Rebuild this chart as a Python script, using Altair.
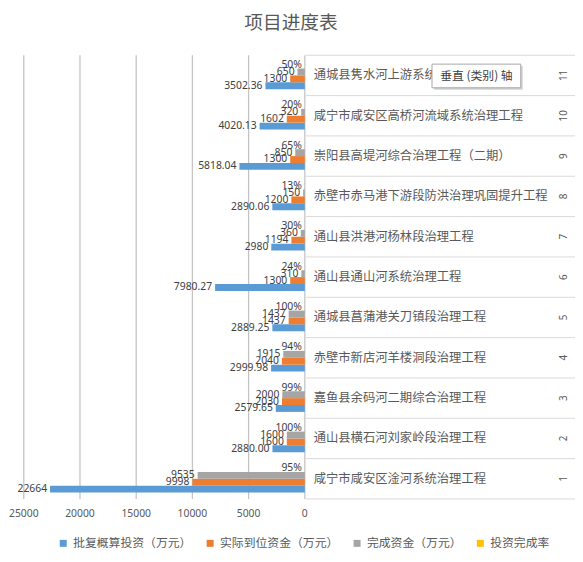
import altair as alt
import pandas as pd

# ---------------- data ----------------
idx = ["1", "2", "3", "4", "5", "6", "7", "8", "9", "10", "11"]
names = [
    "咸宁市咸安区淦河系统治理工程",
    "通山县横石河刘家岭段治理工程",
    "嘉鱼县余码河二期综合治理工程",
    "赤壁市新店河羊楼洞段治理工程",
    "通城县菖蒲港关刀镇段治理工程",
    "通山县通山河系统治理工程",
    "通山县洪港河杨林段治理工程",
    "赤壁市赤马港下游段防洪治理巩固提升工程",
    "崇阳县高堤河综合治理工程（二期）",
    "咸宁市咸安区高桥河流域系统治理工程",
    "通城县隽水河上游系统治理工程",
]
budget = [22664, 2880.00, 2579.65, 2999.98, 2889.25, 7980.27, 2980, 2890.06, 5818.04, 4020.13, 3502.36]
budget_lbl = ["22664", "2880.00", "2579.65", "2999.98", "2889.25", "7980.27", "2980", "2890.06",
              "5818.04", "4020.13", "3502.36"]
funded = [9998, 1600, 2030, 2040, 1437, 1300, 1194, 1200, 1300, 1602, 1300]
completed = [9535, 1600, 2000, 1915, 1437, 310, 360, 150, 850, 320, 650]
rate_pct = [95, 100, 99, 94, 100, 24, 30, 13, 65, 20, 50]

series = ["批复概算投资（万元）", "实际到位资金（万元）", "完成资金（万元）", "投资完成率"]
colors = ["#5B9BD5", "#ED7D31", "#A5A5A5", "#FFC000"]
x_ticks = [0, 5000, 10000, 15000, 20000, 25000]
title_text = "项目进度表"
tooltip_text = "垂直 (类别) 轴"

# ---------------- tables ----------------
rows = []
for i, n in enumerate(names):
    rows.append({"name": n, "series": series[0], "value": budget[i], "label": budget_lbl[i]})
    rows.append({"name": n, "series": series[1], "value": funded[i], "label": str(funded[i])})
    rows.append({"name": n, "series": series[2], "value": completed[i], "label": str(completed[i])})
    rows.append({"name": n, "series": series[3], "value": rate_pct[i] / 100, "label": f"{rate_pct[i]}%"})
df = pd.DataFrame(rows)
cats = pd.DataFrame({"name": names, "idx": idx})
ticks = pd.DataFrame({"t": x_ticks, "tl": [str(v) for v in x_ticks]})

CJK = "Noto Sans CJK SC"
GRID = "#D9D9D9"
VGRID = "#C4C4C4"
TXT = "#595959"

xscale = alt.Scale(domain=[0, 25000], range=[301, 16], nice=False)
yscale = alt.Scale(domain=names[::-1], range=[44, 494], paddingInner=0, paddingOuter=0)
yoff_scale = alt.Scale(domain=series[::-1], paddingInner=0, paddingOuter=0.93)

grid = alt.Chart(ticks).mark_rule(color=VGRID, strokeWidth=1.3).encode(
    x=alt.X("t:Q", scale=xscale, axis=None),
    y=alt.value(44), y2=alt.value(494),
)

tick_text = alt.Chart(ticks).mark_text(align="center", baseline="middle", font="Noto Sans",
                                       fontSize=10.5, color=TXT).encode(
    x=alt.X("t:Q", scale=xscale, axis=None),
    y=alt.value(509),
    text="tl:N",
)

seps = alt.Chart(cats).mark_rule(color=GRID, strokeWidth=1).encode(
    y=alt.Y("name:N", scale=yscale, bandPosition=0, axis=None),
    x=alt.value(302), x2=alt.value(575),
)
bottom_sep = alt.Chart(cats.head(1)).mark_rule(color=GRID, strokeWidth=1).encode(
    y=alt.value(494), x=alt.value(302), x2=alt.value(575),
)

bars = alt.Chart(df).mark_bar(size=7).encode(
    x=alt.X("value:Q", scale=xscale, axis=None),
    y=alt.Y("name:N", scale=yscale, axis=None),
    yOffset=alt.YOffset("series:N", scale=yoff_scale),
    color=alt.Color("series:N", scale=alt.Scale(domain=series, range=colors),
                    legend=alt.Legend(orient="none", legendX=50, legendY=533, direction="horizontal",
                                      title=None, symbolType="square", symbolSize=50,
                                      symbolStrokeWidth=0, labelFont=CJK, labelFontSize=12,
                                      labelColor=TXT, columnPadding=12, labelOffset=4)),
)

labels = alt.Chart(df).mark_text(align="right", baseline="middle", dx=-3, font="Noto Sans",
                                 fontSize=10.5, color="#404040").encode(
    x=alt.X("value:Q", scale=xscale, axis=None),
    y=alt.Y("name:N", scale=yscale, axis=None),
    yOffset=alt.YOffset("series:N", scale=yoff_scale),
    text="label:N",
)

cat_text = alt.Chart(cats).mark_text(align="left", baseline="middle", font=CJK, fontSize=12.5,
                                     color=TXT).encode(
    y=alt.Y("name:N", scale=yscale, axis=None),
    x=alt.value(310),
    text="name:N",
)

num_text = alt.Chart(cats).mark_text(align="center", baseline="middle", font="Noto Sans",
                                     fontSize=10, color=TXT, angle=270).encode(
    y=alt.Y("name:N", scale=yscale, axis=None),
    x=alt.value(564),
    text="idx:N",
)

one = pd.DataFrame({"t": [title_text], "tip": [tooltip_text]})
title = alt.Chart(one).mark_text(align="center", baseline="middle", font=CJK, fontSize=19,
                                 color=TXT).encode(
    x=alt.value(287), y=alt.value(11), text="t:N")

tip_shadow = alt.Chart(one).mark_rect(fill="#BFBFBF", opacity=0.7).encode(
    x=alt.value(432), x2=alt.value(522), y=alt.value(55), y2=alt.value(79))
tip_box = alt.Chart(one).mark_rect(fill="white", stroke="#A6A6A6", strokeWidth=1).encode(
    x=alt.value(430), x2=alt.value(520), y=alt.value(53), y2=alt.value(77))
tip_text = alt.Chart(one).mark_text(align="center", baseline="middle", font=CJK, fontSize=12,
                                    color="#404040").encode(
    x=alt.value(475), y=alt.value(65), text="tip:N")

chart = alt.layer(
    grid, tick_text, seps, bottom_sep, bars, labels, cat_text, num_text, title,
    tip_shadow, tip_box, tip_text
).properties(
    width=575, height=554,
    autosize=alt.AutoSizeParams(type="none"),
    padding=0,
    background="white",
).configure_view(stroke=None)

chart.save("out.html", embed_options={"renderer": "svg", "actions": False})
